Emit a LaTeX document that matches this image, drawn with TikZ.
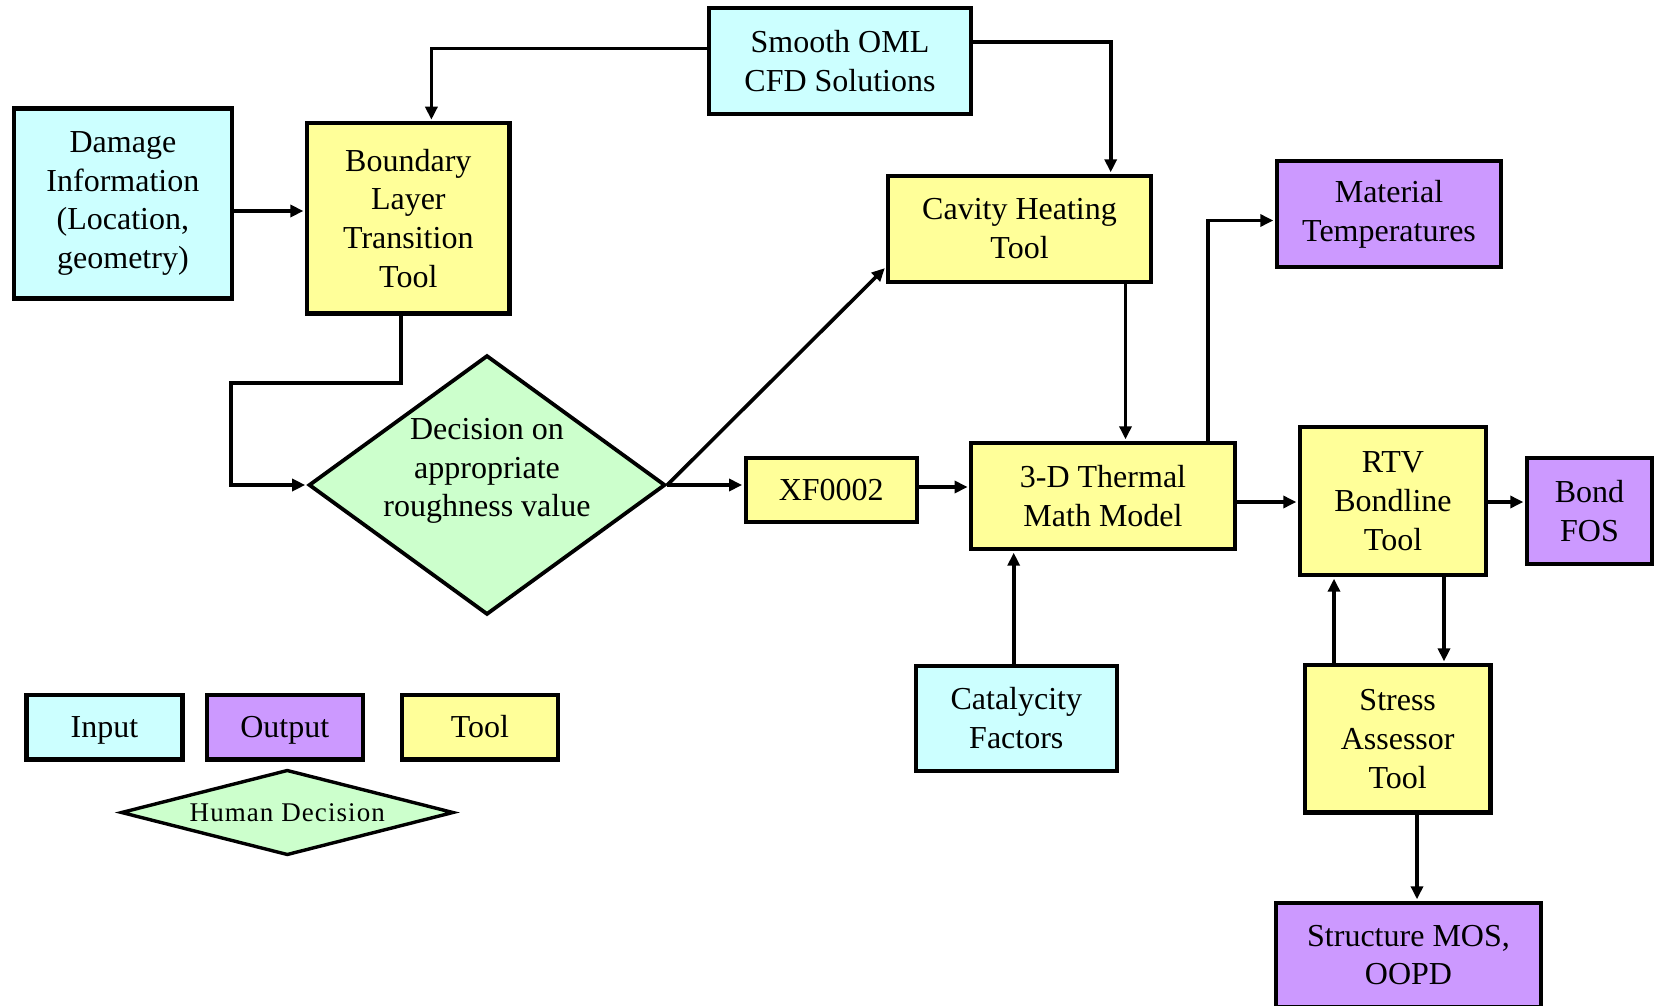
\documentclass[tikz,border=0pt]{standalone}
\usepackage{fontspec}
\setmainfont{Liberation Serif}
\usetikzlibrary{arrows.meta,shapes.geometric}
\definecolor{incol}{HTML}{CCFFFF}
\definecolor{outcol}{HTML}{CC99FF}
\definecolor{toolcol}{HTML}{FFFF99}
\definecolor{deccol}{HTML}{CCFFCC}
\tikzset{
  box/.style={draw=black, line width=2.1pt, rectangle, inner sep=0pt, align=center,
    font=\fontsize{16}{19.4}\selectfont},
  inbox/.style={box, fill=incol},
  outbox/.style={box, fill=outcol},
  toolbox/.style={box, fill=toolcol},
  legbox/.style={text height=12pt, text depth=1.5pt},
  decbox/.style={draw=black, line width=1.9pt, diamond, inner sep=0pt, fill=deccol},
  arr/.style={line width=1.8pt, -{Triangle[length=6.5pt,width=6pt]}, shorten >=0.8pt},
}
\begin{document}
\begin{tikzpicture}[x=0.5pt, y=-0.5pt]
\useasboundingbox[fill=white] (0,0) rectangle (1654,1006);

% inputs
\node[inbox, minimum width=109pt, minimum height=95pt] (dmg) at (122.9,203.5)
  {Damage\\Information\\(Location,\\geometry)};
\node[inbox, minimum width=131.2pt, minimum height=52.8pt] (oml) at (840,61)
  {Smooth OML\\CFD Solutions};
\node[inbox, minimum width=100.7pt, minimum height=52.7pt] (cat) at (1016.3,718.3)
  {Catalycity\\Factors};

% tools
\node[toolbox, minimum width=101.2pt, minimum height=95pt] (blt) at (408.3,218.4)
  {Boundary\\Layer\\Transition\\Tool};
\node[toolbox, minimum width=131.5pt, minimum height=52.8pt] (cav) at (1019.5,228.8)
  {Cavity Heating\\Tool};
\node[toolbox, minimum width=85.4pt, minimum height=32pt] (xf) at (831.2,490)
  {XF0002};
\node[toolbox, minimum width=131.7pt, minimum height=53pt] (tmm) at (1103,496)
  {3-D Thermal\\Math Model};
\node[toolbox, minimum width=93pt, minimum height=74pt] (rtv) at (1393,501)
  {RTV\\Bondline\\Tool};
\node[toolbox, minimum width=92.7pt, minimum height=73.7pt] (sat) at (1397.7,738.8)
  {Stress\\Assessor\\Tool};

% outputs
\node[outbox, minimum width=112pt, minimum height=53pt] (mat) at (1389,214)
  {Material\\Temperatures};
\node[outbox, minimum width=62.5pt, minimum height=53pt] (bond) at (1589.5,511)
  {Bond\\FOS};
\node[outbox, minimum width=132.5pt, minimum height=52pt] (mos) at (1408.5,955)
  {Structure MOS,\\OOPD};

% human decision
\node[decbox, minimum width=178.3pt, minimum height=129.7pt] (dec) at (487,485) {};
\node[align=center, inner sep=0pt, font=\fontsize{16}{19.4}\selectfont] (dect) at (487,471)
  {Decision on\\appropriate\\roughness value};

% legend
\node[inbox, legbox, minimum width=78pt, minimum height=32.2pt] (lin) at (104.5,727.3) {Input};
\node[outbox, legbox, minimum width=78pt, minimum height=32.2pt] (lout) at (284.8,727.3) {Output};
\node[toolbox, legbox, minimum width=78pt, minimum height=32.2pt] (ltool) at (480,727.3) {Tool};
\node[decbox, line width=1.7pt, minimum width=166.3pt, minimum height=42.7pt] (lhd) at (287.3,812.5) {};
\node[inner sep=0pt, font=\fontsize{13.5}{16}\selectfont\addfontfeature{LetterSpace=4}] (lhdt) at (287.3,812.5)
  {Human Decision};

% connectors
\draw[arr] (oml.west |- 0,48.5) -| (431.4,0 |- blt.north);
\draw[arr] (oml.east |- 0,42) -| (1110.7,0 |- cav.north);
\draw[arr] (dmg.east |- 0,211) -- (blt.west |- 0,211);
\draw[arr] (400.8,0 |- blt.south) |- (231,383) |- (dec.west);
\draw[arr] (dec.east) -- (cav.west |- 0,267);
\draw[arr] (dec.east) -- (xf.west |- dec.east);
\draw[arr] (xf.east |- 0,487) -- (tmm.west |- 0,487);
\draw[arr] (1125.5,0 |- cav.south) -- (1125.5,0 |- tmm.north);
\draw[arr] (1207.7,0 |- tmm.north) |- (mat.west |- 0,220.5);
\draw[arr] (tmm.east |- 0,502) -- (rtv.west |- 0,502);
\draw[arr] (rtv.east |- 0,502) -- (bond.west |- 0,502);
\draw[arr] (1013.7,0 |- cat.north) -- (1013.7,0 |- tmm.south);
\draw[arr] (1334,0 |- sat.north) -- (1334,0 |- rtv.south);
\draw[arr] (1444,0 |- rtv.south) -- (1444,0 |- sat.north);
\draw[arr] (1417,0 |- sat.south) -- (1417,0 |- mos.north);
\end{tikzpicture}
\end{document}
